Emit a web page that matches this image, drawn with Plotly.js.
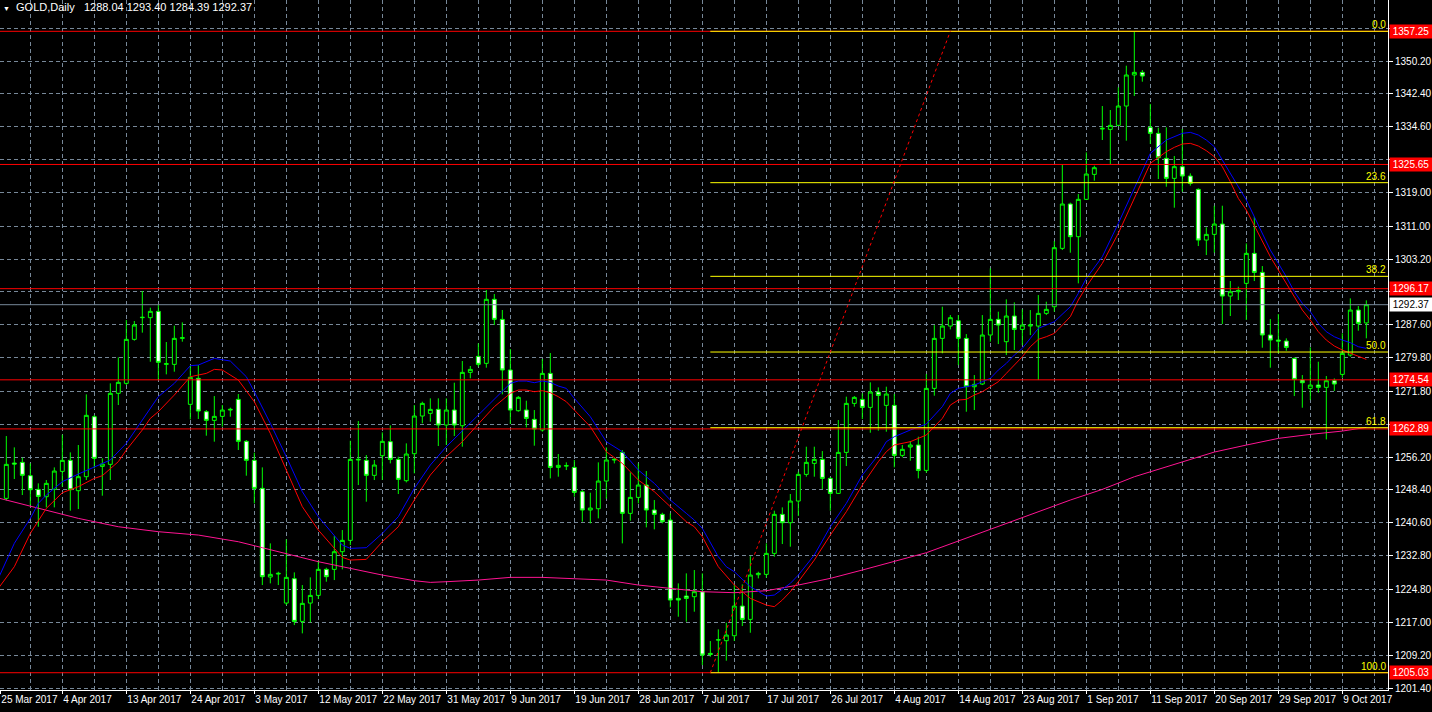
<!DOCTYPE html>
<html>
<head>
<meta charset="utf-8">
<script src="https://cdn.plot.ly/plotly-3.0.1.min.js"></script>
<style>
html,body{margin:0;padding:0;background:#000;}
#chart{width:1432px;height:712px;}
</style>
</head>
<body>
<div id="chart"></div>
<script>
// ---------- DATA (GOLD, Daily) ----------
const symbolName = "GOLD,Daily";

const openPrice = [
1246.41,1254.79,1254.95,1251.79,1248.54,1246.80,1248.54,1252.81,1255.43,1248.23,
1251.55,1265.79,1254.00,1254.48,1271.33,1273.70,1284.14,1289.29,1289.29,1290.79,
1278.21,1278.21,1284.38,1268.72,1274.89,1266.98,1264.92,1265.87,1267.37,1269.90,
1259.94,1255.43,1248.78,1227.74,1228.45,1221.56,1227.34,1217.21,1221.56,1223.38,
1229.56,1229.56,1233.75,1236.44,1255.51,1255.43,1251.87,1256.53,1259.86,1255.66,
1250.60,1257.01,1265.95,1266.58,1267.53,1263.81,1267.37,1263.65,1276.31,1280.11,
1278.45,1293.64,1288.89,1276.87,1267.21,1267.37,1265.16,1262.63,1276.07,1253.76,
1254.08,1253.76,1247.99,1243.64,1243.95,1250.52,1255.51,1257.32,1242.85,1246.64,
1249.57,1243.64,1242.61,1241.26,1222.67,1223.23,1223.07,1224.26,1209.62,1212.78,
1212.63,1213.81,1220.85,1217.69,1228.29,1228.37,1233.35,1242.61,1240.63,1245.77,
1252.10,1254.71,1255.66,1251.15,1247.59,1257.32,1268.95,1269.90,1268.00,1271.64,
1268.48,1268.48,1256.61,1258.59,1259.07,1253.05,1272.51,1284.38,1287.30,1288.57,
1284.38,1272.90,1273.54,1285.17,1288.89,1283.59,1289.68,1286.51,1287.30,1287.30,
1290.31,1291.89,1305.74,1316.26,1308.51,1317.37,1323.30,1334.06,1333.98,1334.93,
1339.52,1346.88,1347.51,1334.46,1333.03,1327.10,1322.35,1325.12,1322.90,1319.74,
1307.71,1309.06,1311.51,1294.42,1295.45,1297.43,1304.55,1300.04,1285.17,1283.98,
1283.74,1279.63,1274.49,1272.51,1273.30,1272.75,1274.33,1275.83,1280.42,1291.10,
1288.04];

const highPrice = [
1261.20,1258.51,1256.06,1254.71,1249.97,1250.76,1253.76,1261.52,1257.32,1259.07,
1271.09,1266.19,1255.90,1273.70,1279.87,1288.73,1288.50,1295.62,1291.66,1292.37,
1283.51,1287.39,1288.18,1277.89,1278.05,1267.37,1270.69,1268.56,1267.93,1271.17,
1260.25,1257.25,1253.76,1235.73,1229.00,1236.68,1228.84,1225.84,1227.66,1231.61,
1229.95,1237.47,1238.89,1260.09,1264.76,1256.69,1255.51,1262.07,1263.73,1256.30,
1259.46,1268.56,1269.35,1270.14,1270.14,1270.14,1273.86,1279.00,1277.82,1283.19,
1295.85,1294.90,1291.11,1281.85,1270.69,1269.59,1267.37,1279.48,1280.90,1256.93,
1254.95,1255.51,1248.38,1247.75,1254.95,1258.51,1256.14,1257.88,1252.58,1254.71,
1252.89,1246.01,1243.00,1242.85,1226.23,1228.61,1229.40,1228.61,1212.55,1215.32,
1216.90,1225.84,1226.00,1232.72,1229.00,1235.73,1243.48,1244.27,1247.44,1252.74,
1258.67,1258.67,1257.64,1251.39,1265.00,1270.54,1270.69,1271.33,1273.94,1272.75,
1272.91,1271.17,1259.07,1260.01,1261.04,1275.92,1287.54,1291.89,1289.91,1289.91,
1285.40,1275.67,1289.91,1300.99,1290.71,1293.63,1292.92,1291.26,1291.10,1294.66,
1293.08,1307.48,1325.75,1316.58,1318.63,1328.52,1325.36,1339.52,1338.57,1343.95,
1349.09,1357.25,1348.06,1339.99,1334.38,1334.46,1327.65,1334.06,1323.54,1319.98,
1310.72,1315.86,1315.86,1297.98,1296.64,1306.92,1313.25,1301.54,1288.96,1290.15,
1284.38,1279.87,1275.67,1282.24,1278.84,1275.44,1274.88,1285.56,1293.87,1292.05,
1293.40];

const lowPrice = [
1245.90,1251.00,1247.20,1244.82,1239.68,1244.27,1244.27,1249.18,1243.48,1243.87,
1250.76,1253.53,1247.04,1250.76,1268.56,1273.31,1283.83,1285.73,1278.84,1274.49,
1275.84,1276.47,1283.59,1265.16,1265.24,1261.28,1259.86,1263.42,1265.79,1257.88,
1251.79,1245.22,1225.84,1226.23,1225.84,1221.09,1216.34,1214.37,1216.98,1222.51,
1226.63,1227.02,1229.56,1235.33,1249.57,1245.62,1250.76,1250.76,1254.71,1247.44,
1250.20,1252.34,1264.21,1264.60,1258.83,1259.07,1261.20,1258.67,1274.89,1277.66,
1277.42,1287.55,1271.09,1264.05,1266.98,1263.26,1258.91,1262.23,1251.15,1251.55,
1253.13,1246.80,1240.87,1240.47,1241.66,1246.33,1254.71,1235.73,1241.11,1245.22,
1239.52,1239.05,1240.47,1220.54,1218.32,1217.14,1219.51,1206.85,1208.83,1205.03,
1207.88,1212.55,1216.11,1214.52,1227.42,1227.58,1232.56,1235.57,1234.94,1242.21,
1251.55,1251.55,1248.62,1243.48,1247.44,1254.08,1268.16,1265.24,1261.99,1262.47,
1262.23,1253.76,1256.14,1255.35,1251.15,1252.50,1270.77,1280.82,1286.51,1278.05,
1266.97,1267.37,1273.30,1283.59,1283.03,1280.42,1281.61,1282.79,1285.17,1274.49,
1289.91,1290.71,1305.34,1304.71,1297.43,1317.21,1321.80,1331.45,1325.75,1334.77,
1331.29,1341.89,1345.29,1330.50,1322.19,1320.37,1315.39,1319.19,1320.61,1306.29,
1304.15,1304.71,1287.78,1289.68,1293.47,1288.73,1297.98,1282.16,1277.42,1280.82,
1281.45,1270.69,1267.92,1269.74,1271.48,1260.40,1271.88,1275.04,1280.02,1286.20,
1284.39];

const closePrice = [
1254.48,1254.56,1251.87,1248.46,1246.88,1249.97,1252.89,1255.43,1248.46,1251.55,
1266.11,1255.90,1254.56,1271.33,1273.94,1284.14,1287.55,1289.37,1290.79,1278.69,
1278.37,1284.38,1284.54,1275.13,1267.13,1264.92,1265.87,1267.37,1267.53,1259.94,
1255.43,1248.78,1227.82,1228.37,1228.61,1227.66,1217.21,1221.49,1223.38,1229.56,
1227.82,1233.75,1236.44,1255.66,1255.66,1251.87,1254.32,1259.94,1255.66,1250.92,
1256.93,1265.95,1268.95,1267.53,1263.81,1267.37,1263.81,1276.31,1277.02,1278.21,
1293.64,1288.89,1276.87,1267.37,1270.38,1265.39,1262.86,1276.07,1253.76,1254.24,
1254.16,1247.83,1243.64,1244.11,1250.52,1255.51,1255.66,1242.85,1246.64,1249.57,
1243.64,1242.61,1240.87,1222.28,1222.28,1222.67,1224.26,1209.22,1209.38,1212.86,
1213.97,1220.85,1217.69,1228.21,1228.61,1233.35,1242.61,1240.63,1245.77,1252.10,
1254.95,1255.66,1251.15,1247.59,1257.32,1268.95,1270.38,1268.00,1271.64,1270.85,
1271.17,1256.61,1258.04,1259.07,1253.05,1272.51,1284.38,1287.30,1289.28,1284.38,
1272.90,1273.46,1285.17,1288.89,1287.54,1289.68,1286.51,1287.54,1287.54,1290.31,
1291.26,1305.90,1316.26,1308.51,1317.37,1323.38,1324.88,1334.22,1334.93,1339.52,
1346.88,1347.51,1346.64,1333.03,1327.26,1322.35,1325.12,1322.90,1321.16,1307.71,
1309.06,1311.51,1294.42,1295.45,1295.77,1304.55,1300.04,1285.17,1283.98,1283.74,
1282.24,1274.64,1273.85,1273.30,1272.75,1274.33,1273.54,1280.82,1291.10,1287.94,
1292.37];

// moving averages (bar index, price)
const maBlueBars = [-1,1,3,4,5,7,9,11,13,15,17,19,21,23,24,26,28,30,31,33,35,37,39,41,42,43,45,47,49,51,53,55,57,59,61,63,64,65,66,67,68,69,70,71,73,75,77,79,81,83,85,86,87,89,90,91,93,95,96,97,98,99,101,103,105,107,109,110,111,113,115,117,118,119,120,121,122,123,124,125,126,127,128,129,130,131,133,134,135,137,139,141,143,145,146,147,148,149,150,151,152,153,154,155,156,157,158,159,160,161,162,163,164,165,166,167,168,169,170];
const maBlueValues = [1227.42,1235.73,1241.66,1245.22,1247.20,1250.36,1252.18,1253.92,1255.51,1259.46,1265.00,1270.54,1273.70,1277.89,1278.05,1279.63,1279.00,1275.28,1271.72,1264.21,1256.30,1248.00,1242.06,1237.70,1235.33,1234.54,1234.70,1238.10,1242.06,1248.78,1254.32,1258.67,1262.47,1266.19,1270.14,1273.70,1274.26,1274.26,1273.86,1274.26,1273.94,1273.07,1272.51,1270.14,1265.79,1259.86,1257.48,1253.13,1249.97,1246.01,1242.85,1241.26,1239.29,1232.56,1230.19,1229.00,1225.44,1223.23,1223.46,1224.81,1226.23,1228.21,1232.96,1239.68,1245.22,1251.94,1256.69,1259.86,1261.04,1262.63,1264.05,1268.16,1271.32,1272.51,1272.90,1273.30,1274.09,1274.88,1276.86,1278.44,1280.42,1282.00,1284.38,1286.75,1287.54,1288.33,1291.89,1295.06,1298.62,1303.76,1311.67,1319.98,1328.28,1331.45,1332.24,1333.03,1333.27,1332.64,1331.45,1329.87,1326.71,1323.54,1320.37,1317.21,1313.25,1309.30,1305.34,1302.18,1299.01,1295.45,1292.68,1290.71,1287.94,1285.96,1284.77,1283.98,1283.35,1282.40,1282.00];

const maRedBars = [-1,1,3,5,7,9,11,12,14,15,17,18,19,21,23,25,26,27,29,31,33,35,37,39,41,42,43,45,47,49,51,53,55,57,59,61,63,64,65,66,67,68,69,70,71,73,75,77,79,81,83,85,86,87,89,91,93,95,96,97,98,99,101,103,105,107,109,110,111,113,115,117,118,119,120,121,122,123,124,125,126,127,128,129,130,131,133,134,135,137,139,141,143,145,146,147,148,149,150,151,152,153,154,155,156,157,158,159,160,161,162,163,164,165,166,167,168,169,170];
const maRedValues = [1225.05,1230.19,1238.10,1244.03,1247.75,1249.18,1251.15,1251.79,1255.11,1257.88,1262.63,1265.39,1266.98,1270.93,1275.28,1276.07,1277.02,1276.87,1274.49,1269.35,1261.83,1253.13,1244.43,1238.89,1234.54,1232.40,1231.77,1231.93,1236.12,1239.68,1246.01,1251.94,1256.30,1259.86,1264.05,1268.16,1271.33,1272.12,1272.12,1271.72,1271.96,1271.49,1270.54,1269.35,1267.37,1263.42,1257.48,1254.71,1250.76,1248.00,1244.43,1240.87,1239.68,1237.31,1230.19,1225.84,1222.67,1221.09,1220.70,1222.28,1224.26,1226.63,1231.77,1237.70,1243.24,1249.57,1255.11,1257.48,1259.07,1259.86,1261.44,1265.39,1268.55,1269.74,1269.90,1270.93,1271.72,1272.90,1274.09,1276.07,1278.05,1280.02,1282.40,1284.14,1284.77,1285.56,1289.52,1293.47,1296.64,1302.18,1309.30,1317.60,1325.91,1328.68,1329.71,1330.50,1330.66,1330.03,1328.92,1327.49,1325.12,1321.56,1317.60,1314.84,1311.27,1307.71,1303.76,1300.59,1297.43,1294.27,1291.10,1288.73,1285.96,1283.98,1282.56,1281.61,1280.82,1280.02,1279.39];

const maLongBars = [-1,4,9,14,19,24,29,32,35,39,43,47,51,53,55,59,63,67,71,75,79,83,87,91,95,99,103,107,111,115,133,137,141,145,149,151,155,159,163,167,170];
const maLongValues = [1246.49,1244.03,1241.66,1239.68,1238.50,1237.70,1236.12,1234.70,1233.35,1231.38,1229.79,1228.21,1226.87,1226.47,1226.63,1227.02,1227.66,1227.66,1227.34,1227.02,1225.84,1225.05,1224.26,1224.02,1224.49,1225.84,1227.42,1229.40,1231.38,1233.51,1246.01,1248.54,1251.54,1253.92,1256.29,1257.40,1259.06,1260.64,1261.59,1262.38,1263.25];

// horizontal lines, bid, fibonacci, trend line
const horizontalLevels = [1357.25, 1325.65, 1296.17, 1274.54, 1262.89, 1205.03];
const bidPrice = 1292.37;
const fibHigh = 1357.25;
const fibLow = 1205.03;
const fibLevels = [0, 23.6, 38.2, 50.0, 61.8, 100.0];
const fibLabels = ["0.0", "23.6", "38.2", "50.0", "61.8", "100.0"];
const fibStartBar = 88;
const trendBars = [88, 118];
const trendPrices = [1205.03, 1357.25];

// axis ticks (labels hidden behind the price boxes are left blank)
const yTickValues = [1358.00,1350.20,1342.40,1334.60,1326.80,1319.00,1311.00,1303.20,1295.40,1287.60,1279.80,1271.80,1264.00,1256.20,1248.40,1240.60,1232.80,1224.80,1217.00,1209.20,1201.40];
const yTickLabels = ["","1350.20","1342.40","1334.60","","1319.00","1311.00","1303.20","","1287.60","1279.80","1271.80","","1256.20","1248.40","1240.60","1232.80","1224.80","1217.00","1209.20","1201.40"];
const xTickBars = [-1,7,15,23,31,39,47,55,63,71,79,87,95,103,111,119,127,135,143,151,159,167];
const xTickLabels = ["25 Mar 2017","4 Apr 2017","13 Apr 2017","24 Apr 2017","3 May 2017","12 May 2017","22 May 2017","31 May 2017","9 Jun 2017","19 Jun 2017","28 Jun 2017","7 Jul 2017","17 Jul 2017","26 Jul 2017","4 Aug 2017","14 Aug 2017","23 Aug 2017","1 Sep 2017","11 Sep 2017","20 Sep 2017","29 Sep 2017","9 Oct 2017"];

// ---------- BUILD ----------
const xRange = [-0.79, 172.71];
const yRange = [1200.93, 1364.68];
const barIndex = openPrice.map((_, i) => i);
const GREEN = '#00FF00', GRID = '#778899';

const traces = [
  {
    type: 'candlestick', x: barIndex,
    open: openPrice, high: highPrice, low: lowPrice, close: closePrice,
    increasing: {line: {color: GREEN, width: 1}, fillcolor: '#000000'},
    decreasing: {line: {color: GREEN, width: 1}, fillcolor: '#FFFFFF'},
    whiskerwidth: 0, hoverinfo: 'skip', showlegend: false
  },
  {type: 'scatter', mode: 'lines', x: maLongBars, y: maLongValues,
   line: {color: '#FF1493', width: 1}, hoverinfo: 'skip', showlegend: false},
  {type: 'scatter', mode: 'lines', x: maRedBars, y: maRedValues,
   line: {color: '#FF0000', width: 1}, hoverinfo: 'skip', showlegend: false},
  {type: 'scatter', mode: 'lines', x: maBlueBars, y: maBlueValues,
   line: {color: '#0000FF', width: 1}, hoverinfo: 'skip', showlegend: false}
];

const shapes = [];
horizontalLevels.forEach(p => shapes.push({type: 'line', xref: 'paper', x0: 0, x1: 1, yref: 'y', y0: p, y1: p,
  line: {color: '#FF0000', width: 1}}));
shapes.push({type: 'line', xref: 'paper', x0: 0, x1: 1, yref: 'y', y0: bidPrice, y1: bidPrice,
  line: {color: GRID, width: 1}});
const fibPrices = fibLevels.map(l => fibHigh - (fibHigh - fibLow) * l / 100);
fibPrices.forEach(p => shapes.push({type: 'line', xref: 'x', x0: fibStartBar, x1: xRange[1], yref: 'y', y0: p, y1: p,
  line: {color: '#FFFF00', width: 1}}));
shapes.push({type: 'line', xref: 'x', yref: 'y', x0: trendBars[0], y0: trendPrices[0], x1: trendBars[1], y1: trendPrices[1],
  line: {color: '#FF0000', width: 1, dash: '3px,3px'}});

const annotations = [];
const last = closePrice.length - 1;
annotations.push({
  xref: 'paper', yref: 'paper', x: 0, y: 1, xanchor: 'left', yanchor: 'top', xshift: 2, yshift: 0,
  showarrow: false, align: 'left', borderpad: 0,
  font: {color: '#FFFFFF', size: 11},
  text: '<span style="font-size:7px">▼</span>\u00A0 ' + symbolName + '\u00A0\u00A0 ' +
        [openPrice[last], highPrice[last], lowPrice[last], closePrice[last]].map(v => v.toFixed(2)).join(' ')
});
fibPrices.forEach((p, i) => annotations.push({
  xref: 'paper', x: 1, xanchor: 'right', xshift: -1, yref: 'y', y: p, yanchor: 'bottom',
  text: fibLabels[i], showarrow: false, borderpad: 0, font: {color: '#FFFF00', size: 10}
}));
horizontalLevels.forEach(p => annotations.push({
  xref: 'paper', x: 1, xanchor: 'left', xshift: 1, yref: 'y', y: p, yanchor: 'middle',
  text: p.toFixed(2), showarrow: false, bgcolor: '#FF0000', width: 40, height: 11, borderpad: 1,
  align: 'center', font: {color: '#FFFFFF', size: 10}
}));
annotations.push({
  xref: 'paper', x: 1, xanchor: 'left', xshift: 1, yref: 'y', y: bidPrice, yanchor: 'middle',
  text: bidPrice.toFixed(2), showarrow: false, bgcolor: '#FFFFFF', width: 40, height: 11, borderpad: 1,
  align: 'center', font: {color: '#000000', size: 10}
});

const xTickPositions = xTickBars.map(b => Math.max(b, xRange[0] + 0.04));

const layout = {
  width: 1432, height: 712,
  margin: {l: 0, r: 44, t: 0, b: 22, pad: 0},
  paper_bgcolor: '#000000', plot_bgcolor: '#000000',
  font: {family: 'Liberation Sans, Arial, sans-serif', size: 10, color: '#FFFFFF'},
  showlegend: false, hovermode: false,
  xaxis: {
    type: 'linear', range: xRange, fixedrange: true,
    rangeslider: {visible: false},
    tickmode: 'array', tickvals: xTickPositions, ticktext: xTickLabels,
    tickangle: 0,
    ticks: 'outside', ticklen: 3, tickcolor: '#FFFFFF',
    ticklabelposition: 'outside right',
    showgrid: true, gridcolor: GRID, griddash: '4px,3px', gridwidth: 1,
    minor: {dtick: 4, tick0: 3, showgrid: true, gridcolor: GRID, griddash: '4px,3px', gridwidth: 1, ticks: ''},
    showline: true, linecolor: '#FFFFFF', linewidth: 1,
    zeroline: false, automargin: false,
    tickfont: {color: '#FFFFFF', size: 10}
  },
  yaxis: {
    side: 'right', range: yRange, fixedrange: true,
    tickmode: 'array', tickvals: yTickValues, ticktext: yTickLabels,
    ticks: 'outside', ticklen: 4, tickcolor: '#FFFFFF',
    showgrid: true, gridcolor: GRID, griddash: '4px,3px', gridwidth: 1,
    showline: true, linecolor: '#FFFFFF', linewidth: 1,
    zeroline: false, automargin: false,
    tickfont: {color: '#FFFFFF', size: 10}
  },
  shapes: shapes,
  annotations: annotations
};

Plotly.newPlot('chart', traces, layout, {displayModeBar: false, staticPlot: true});
</script>
</body>
</html>
